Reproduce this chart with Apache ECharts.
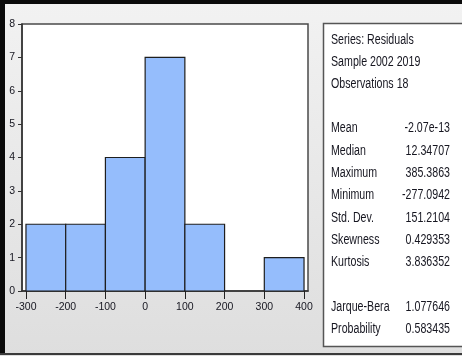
<!DOCTYPE html>
<html>
<head>
<meta charset="utf-8">
<script src="https://cdn.jsdelivr.net/npm/echarts@6/dist/echarts.min.js"></script>
<style>
  html, body { margin: 0; padding: 0; background: #ffffff; }
  #chart { width: 462px; height: 356px; }
</style>
</head>
<body>
<div id="chart"></div>
<script>
// Histogram of residuals: bin edges and frequencies
var binStart = [-300, -200, -100, 0, 100, 200, 300];
var binEnd   = [-200, -100, 0, 100, 200, 300, 400];
var counts   = [2, 2, 4, 7, 2, 0, 1];

// Tick values for the horizontal axis
var xTicks = [-300, -200, -100, 0, 100, 200, 300, 400];

// Descriptive statistics panel
var headerLines = ['Series: Residuals', 'Sample 2002 2019', 'Observations 18'];
var statNames  = ['Mean', 'Median', 'Maximum', 'Minimum', 'Std. Dev.', 'Skewness', 'Kurtosis'];
var statValues = ['-2.07e-13', '12.34707', '385.3863', '-277.0942', '151.2104', '0.429353', '3.836352'];
var testNames  = ['Jarque-Bera', 'Probability'];
var testValues = ['1.077646', '0.583435'];

var FONT = '"Liberation Sans", Arial, sans-serif';
var TEXT_COLOR = '#161620';
var NARROW = 0.76; // horizontal squeeze giving a condensed look

var chart = echarts.init(document.getElementById('chart'), null, { renderer: 'canvas' });

function label(text, x, y, align) {
  return {
    type: 'text', x: x, y: y, scaleX: NARROW,
    style: { text: text, font: '14px ' + FONT, fill: TEXT_COLOR,
             textAlign: align || 'left', textVerticalAlign: 'middle' }
  };
}

var graphics = [
  // window background
  { type: 'rect', z: -10, shape: { x: 0, y: 0, width: 462, height: 356 },
    style: { fill: new echarts.graphic.LinearGradient(0, 0, 0, 1, [
      { offset: 0, color: '#f2f2f2' }, { offset: 1, color: '#dedede' }]) } },
  { type: 'rect', z: -9, shape: { x: 0, y: 0, width: 462, height: 4 }, style: { fill: '#0a0a0a' } },
  { type: 'rect', z: -9, shape: { x: 0, y: 0, width: 5, height: 355 }, style: { fill: '#0a0a0a' } },
  { type: 'rect', z: -9, shape: { x: 0, y: 353, width: 462, height: 2 }, style: { fill: '#3a3a3a' } },
  // statistics box
  { type: 'rect', z: -8, shape: { x: 323.5, y: 23.5, width: 150, height: 323 },
    style: { fill: '#ffffff', stroke: '#555555', lineWidth: 1.5 } }
];

var headerY = [40, 62, 84];
headerLines.forEach(function (t, i) {
  graphics.push(label(t, 331, headerY[i]));
});
statNames.forEach(function (t, i) {
  var y = 128.5 + i * 22.3;
  graphics.push(label(t, 331, y));
  graphics.push(label(statValues[i], 450, y, 'right'));
});
testNames.forEach(function (t, i) {
  var y = 307 + i * 22.3;
  graphics.push(label(t, 331, y));
  graphics.push(label(testValues[i], 450, y, 'right'));
});

var histData = binStart.map(function (s, i) { return [s, binEnd[i], counts[i]]; });

chart.setOption({
  animation: false,
  graphic: graphics,
  grid: {
    left: 22, top: 24, width: 286, height: 267,
    show: true, backgroundColor: '#ffffff', borderColor: '#4a4a4a', borderWidth: 1.5
  },
  xAxis: {
    type: 'value', min: -310, max: 410,
    axisLine: { show: true, onZero: false, lineStyle: { color: '#333333', width: 1.5 } },
    axisTick: { show: true, customValues: xTicks, length: 8, inside: false,
                lineStyle: { color: '#222222', width: 1 } },
    axisLabel: { customValues: xTicks, margin: 11, fontFamily: FONT, fontSize: 10.5, color: TEXT_COLOR },
    splitLine: { show: false }
  },
  yAxis: {
    type: 'value', min: 0, max: 8, interval: 1,
    axisLine: { show: true, onZero: false, lineStyle: { color: '#333333', width: 1.5 } },
    axisTick: { show: true, length: 4, lineStyle: { color: '#333333', width: 1 } },
    axisLabel: { margin: 7, fontFamily: FONT, fontSize: 10.5, color: TEXT_COLOR },
    splitLine: { show: false }
  },
  series: [{
    type: 'custom',
    data: histData,
    encode: { x: [0, 1], y: 2 },
    clip: false,
    renderItem: function (params, api) {
      var h = api.value(2);
      if (!h) return null;
      var p0 = api.coord([api.value(0), h]);
      var p1 = api.coord([api.value(1), 0]);
      return {
        type: 'rect',
        shape: { x: p0[0], y: p0[1], width: p1[0] - p0[0], height: p1[1] - p0[1] },
        style: { fill: '#95bdfc', stroke: '#1e1e1e', lineWidth: 1.2 }
      };
    }
  }]
});
</script>
</body>
</html>
